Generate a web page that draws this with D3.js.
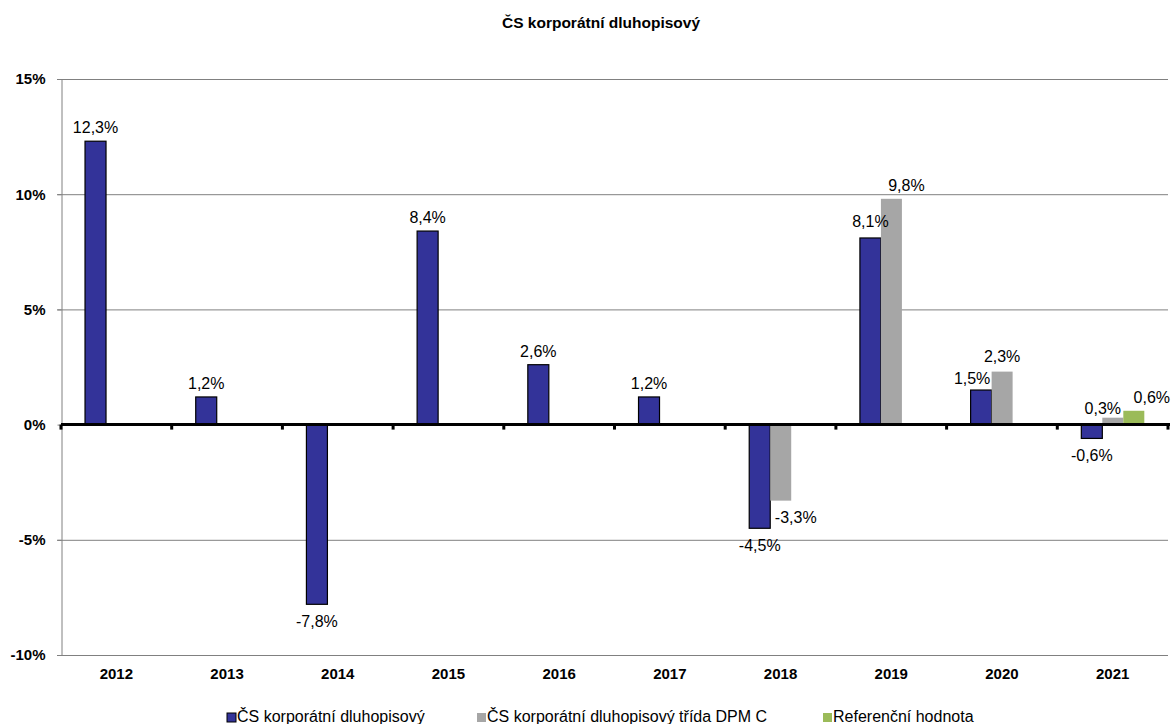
<!DOCTYPE html>
<html>
<head>
<meta charset="utf-8">
<script src="https://cdn.jsdelivr.net/npm/d3@7"></script>
<style>
body{margin:0;background:#fff;}
svg text{font-family:"Liberation Sans",Arial,sans-serif;}
</style>
</head>
<body>
<svg id="chart" width="1174" height="724"></svg>
<script>
var years = ["2012","2013","2014","2015","2016","2017","2018","2019","2020","2021"];
var seriesNames = ["ČS korporátní dluhopisový","ČS korporátní dluhopisový třída DPM C","Referenční hodnota"];
var fundValues  = [12.3, 1.2, -7.8, 8.4, 2.6, 1.2, -4.5, 8.1, 1.5, -0.6];
var classCValues = [null, null, null, null, null, null, -3.3, 9.8, 2.3, 0.3];
var benchValues = [null, null, null, null, null, null, null, null, null, 0.6];
var yTicks = [-10, -5, 0, 5, 10, 15];
var colors = ["#333399","#a6a6a6","#9bbb59"];

// hand moved labels, like in the original sheet: [series, year index, dx, dy]
var labelNudge = [[0,7,0,-3],[1,7,15,0],[0,8,-9,2],[1,8,0,-2],[1,9,-10,4],[2,9,18,0],[1,6,15,-1]];

var svg = d3.select("#chart");
var margin = {left:61, right:6, top:79, bottom:69};
var W = 1174, H = 724;

var x = d3.scaleBand().domain(years).range([margin.left, W-margin.right]).padding(0);
var xs = d3.scaleBand().domain([0,1,2]).range([x.bandwidth()*0.217, x.bandwidth()*0.786]).padding(0);
var y = d3.scaleLinear().domain([-10,15]).range([H-margin.bottom, margin.top]);

svg.append("text").attr("x",601).attr("y",28).attr("text-anchor","middle")
	.style("font-size","15.5px").style("font-weight","bold").text("ČS korporátní dluhopisový");

// grid lines
var grid = svg.append("g");
grid.selectAll("line").data(yTicks.filter(function(d){return d!=0;})).enter().append("line")
	.attr("x1",margin.left-4).attr("x2",W-margin.right)
	.attr("y1",function(d){return y(d)+0.5;}).attr("y2",function(d){return y(d)+0.5;})
	.style("stroke","#808080").style("stroke-width",1);

var yAxis = d3.axisLeft(y).tickValues(yTicks).tickSize(4).tickPadding(12)
	.tickFormat(function(d){return d+"%";});
var gy = svg.append("g").attr("transform","translate("+(margin.left+0.5)+",0)").call(yAxis);
gy.select(".domain").style("stroke","#808080");
gy.selectAll(".tick line").style("stroke","#808080");
gy.selectAll("text").style("font-size","15px").style("font-weight","bold").style("fill","#000")
	.style("font-family","'Liberation Sans',Arial,sans-serif");

// bars
var allValues = [fundValues, classCValues, benchValues];
var barData = [];
allValues.forEach(function(vals,s){
	vals.forEach(function(v,i){
		if (v !== null) barData.push({s:s, i:i, year:years[i], v:v});
	});
});

svg.append("g").selectAll("rect").data(barData).enter().append("rect")
	.attr("x",function(d){return x(d.year)+xs(d.s);})
	.attr("width",xs.bandwidth())
	.attr("y",function(d){return y(Math.max(0,d.v));})
	.attr("height",function(d){return Math.abs(y(d.v)-y(0));})
	.style("fill",function(d){return colors[d.s];})
	.style("stroke",function(d){return d.s==0 ? "#000" : "none";})
	.style("stroke-width",1.2);

// zero axis
svg.append("line").attr("x1",margin.left).attr("x2",W-margin.right+2)
	.attr("y1",y(0)).attr("y2",y(0)).style("stroke","#000").style("stroke-width",3);
var bounds = years.map(function(d){return x(d);}).concat([W-margin.right]);
svg.append("g").selectAll("line").data(bounds).enter().append("line")
	.attr("x1",function(d){return d;}).attr("x2",function(d){return d;})
	.attr("y1",y(0)).attr("y2",y(0)+5).style("stroke","#000").style("stroke-width",3);

// value labels
function nudge(d){
	var n = labelNudge.filter(function(a){return a[0]==d.s && a[1]==d.i;})[0];
	return n ? n : [0,0,0,0];
}
svg.append("g").selectAll("text").data(barData).enter().append("text")
	.attr("x",function(d){return x(d.year)+xs(d.s)+xs.bandwidth()/2+nudge(d)[2];})
	.attr("y",function(d){
		var base = d.v>=0 ? y(d.v)-8 : y(d.v)+23;
		return base+nudge(d)[3];})
	.attr("text-anchor","middle").style("font-size","16px")
	.text(function(d){return d3.format(".1f")(d.v).replace(".",",").replace("−","-")+"%";});

// x labels
svg.append("g").selectAll("text").data(years).enter().append("text")
	.attr("x",function(d){return x(d)+x.bandwidth()/2;})
	.attr("y",679).attr("text-anchor","middle")
	.style("font-size","15px").style("font-weight","bold").text(function(d){return d;});

// legend
var legendX = [227, 477, 823];
var lg = svg.append("g").selectAll("g").data(seriesNames).enter().append("g")
	.attr("transform",function(d,i){return "translate("+legendX[i]+",0)";});
lg.append("rect").attr("x",0).attr("y",713).attr("width",9).attr("height",9)
	.style("fill",function(d,i){return colors[i];})
	.style("stroke",function(d,i){return i==0 ? "#000":"none";});
lg.append("text").attr("x",10).attr("y",722).style("font-size","16px").text(function(d){return d;});
</script>
</body>
</html>
